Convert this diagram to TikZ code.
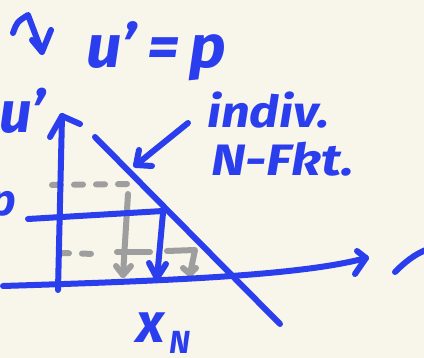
\documentclass[tikz,border=0pt]{standalone}
\usepackage{fontspec}
\setmainfont{Fira Sans}
\definecolor{ink}{RGB}{42,62,238}
\definecolor{pencil}{RGB}{158,158,158}
\definecolor{paper}{RGB}{248,245,234}
\begin{document}
\begin{tikzpicture}[x=1pt,y=-1pt,
  stroke/.style={draw=ink,line width=6pt,line cap=round,line join=round},
  greystroke/.style={draw=pencil,line width=6pt,line cap=round,line join=round},
  dashgrey/.style={greystroke,dash pattern=on 9pt off 13pt},
  hand/.style={text=ink,font=\bfseries\itshape,inner sep=0pt}]
\fill[paper] (0,0) rectangle (424,358);
\useasboundingbox (0,0) rectangle (424,358);
% grey helper lines
\coordinate (g1a) at (52,185); \coordinate (g1b) at (128,184);
\draw[dashgrey] (g1a) -- (g1b);
\coordinate (g2a) at (128,194); \coordinate (g2b) at (123,275);
\coordinate (g2l) at (116,266); \coordinate (g2r) at (131,266);
\draw[greystroke] (g2a) -- (g2b); \draw[greystroke] (g2l) -- (g2b) -- (g2r);
\coordinate (g3a) at (60,253); \coordinate (g3b) at (96,254);
\draw[dashgrey] (g3a) -- (g3b);
\coordinate (g4a) at (117,252); \coordinate (g4b) at (150,252);
\draw[greystroke] (g4a) -- (g4b);
\coordinate (g5a) at (167,251); \coordinate (g5b) at (195,250); \coordinate (g5c) at (190,274);
\coordinate (g5l) at (183,268); \coordinate (g5r) at (196,268);
\draw[greystroke] (g5a) -- (g5b) -- (g5c); \draw[greystroke] (g5l) -- (g5c) -- (g5r);
% axes
\coordinate (yb) at (58,290); \coordinate (yt) at (62,116);
\coordinate (yl) at (50,137); \coordinate (yr) at (80,124);
\draw[stroke] (yb) -- (yt); \draw[stroke] (yl) -- (yt) -- (yr);
\coordinate (xl) at (3,286); \coordinate (xr) at (366,258);
\coordinate (xu) at (357,251); \coordinate (xd) at (355,274);
\draw[stroke] (xl) .. controls (160,281) and (300,276) .. (xr);
\draw[stroke] (xu) -- (xr) -- (xd);
% demand line
\coordinate (d1) at (95,137); \coordinate (d2) at (280,324);
\draw[stroke] (d1) -- (d2);
% price line and arrow
\coordinate (p1) at (28,219); \coordinate (p2) at (163,211);
\draw[stroke] (p1) -- (p2);
\coordinate (q1) at (163,213); \coordinate (q2) at (157,278);
\coordinate (ql) at (149,263); \coordinate (qr) at (166,264);
\draw[stroke] (q1) -- (q2); \draw[stroke] (ql) -- (q2) -- (qr);
% pointer arrow
\coordinate (a1) at (188,123); \coordinate (a2) at (136,165);
\coordinate (al) at (139,150); \coordinate (ar) at (152,166);
\draw[stroke] (a1) -- (a2); \draw[stroke] (al) -- (a2) -- (ar);
% squiggle arrow top left
\coordinate (s1) at (13,33); \coordinate (s2) at (28,15); \coordinate (s3) at (42,52);
\coordinate (sl) at (32,40); \coordinate (sr) at (51,30);
\draw[stroke] (s1) .. controls (17,22) .. (s2) -- (s3);
\draw[stroke] (sl) -- (s3) -- (sr);
% right edge curve
\coordinate (r1) at (395,272); \coordinate (r2) at (428,249);
\draw[stroke] (r1) .. controls (405,262) and (415,254) .. (r2);
% texts
\node[hand,font=\fontsize{60}{60}\bfseries\itshape,anchor=base west] (eq) at (86,68) {\scalebox{1.05}[1]{u'\,=\,p}};
\node[hand,font=\fontsize{58}{58}\bfseries\itshape,anchor=base east] (uy) at (46,133) {u'};
\node[hand,font=\fontsize{44}{44}\bfseries\itshape,anchor=base east] (pl) at (16,216) {p};
\node[hand,font=\fontsize{44}{44}\bfseries\itshape,anchor=base west] (t1) at (207,128) {\scalebox{1.15}[1]{indiv.}};
\node[hand,font=\fontsize{44}{44}\bfseries\itshape,anchor=base west] (t2) at (211,176) {\scalebox{1.2}[1]{N-Fkt.}};
\node[hand,font=\fontsize{56}{56}\bfseries\itshape,anchor=base west] (xn) at (136,343) {x};
\node[hand,font=\fontsize{32}{32}\bfseries\itshape,anchor=base west] (nn) at (169,354) {N};
\end{tikzpicture}
\end{document}
